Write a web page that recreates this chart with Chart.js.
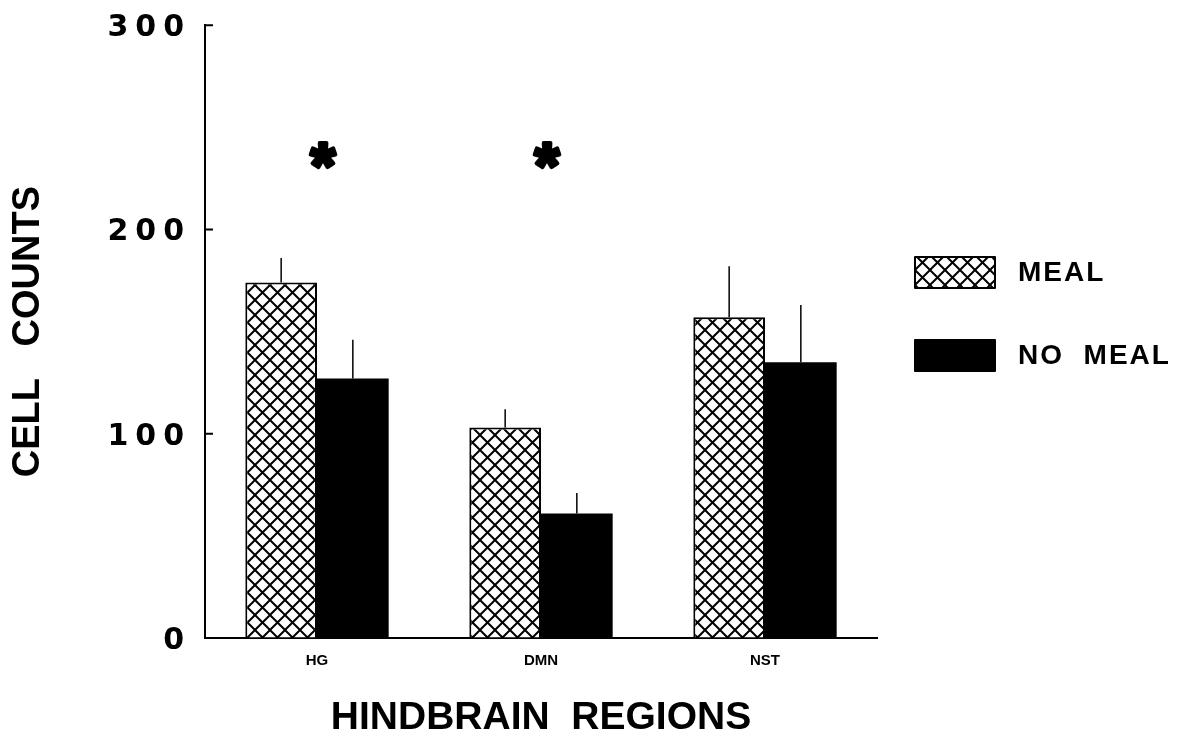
<!DOCTYPE html>
<html>
<head>
<meta charset="utf-8">
<script src="https://cdn.jsdelivr.net/npm/chart.js@4"></script>
<style>
  html, body { margin: 0; padding: 0; background: #fff; }
  #wrap { width: 1187px; height: 741px; }
</style>
</head>
<body>
<div id="wrap"><canvas id="myChart" width="1187" height="741"></canvas></div>
<script>
const regions = ["HG", "DMN", "NST"];
const mealValues = [174, 103, 157];
const mealErrors = [12, 9, 25];
const noMealValues = [127, 61, 135];
const noMealErrors = [19, 10, 28];
const yTicks = [0, 100, 200, 300];
const starLabels = ["*", "*", ""];
const starValues = [236, 236, 0];

const FONT = "'Liberation Sans', Arial, sans-serif";

// cross hatch fill like the old printout
function makeHatch() {
  const size = 15;
  const c = document.createElement("canvas");
  c.width = size;
  c.height = size;
  const g = c.getContext("2d");
  g.fillStyle = "#fff";
  g.fillRect(0, 0, size, size);
  g.strokeStyle = "#000";
  g.lineWidth = 2;
  g.beginPath();
  g.moveTo(-2, -2); g.lineTo(size + 2, size + 2);
  g.moveTo(size + 2, -2); g.lineTo(-2, size + 2);
  g.stroke();
  return g.createPattern(c, "repeat");
}
const hatch = makeHatch();

const errors = [mealErrors, noMealErrors];

const extrasPlugin = {
  id: "extras",
  beforeDraw(chart) {
    chart.ctx.letterSpacing = "0px";
  },
  afterDatasetsDraw(chart) {
    const ctx = chart.ctx;
    // error bars, upward only, no caps
    ctx.save();
    ctx.strokeStyle = "#000";
    ctx.lineWidth = 1.5;
    chart.data.datasets.forEach((ds, i) => {
      const meta = chart.getDatasetMeta(i);
      meta.data.forEach((bar, j) => {
        const top = chart.scales.y.getPixelForValue(ds.data[j] + errors[i][j]);
        ctx.beginPath();
        ctx.moveTo(bar.x, bar.y);
        ctx.lineTo(bar.x, top);
        ctx.stroke();
      });
    });
    ctx.restore();
    // spacing for the y tick numbers drawn in the next layer
    ctx.letterSpacing = "7px";
  },
  afterDraw(chart) {
    const ctx = chart.ctx;
    const y = chart.scales.y;
    const x = chart.scales.x;
    ctx.save();
    ctx.letterSpacing = "0px";
    // inward ticks on the y axis
    ctx.strokeStyle = "#000";
    ctx.lineWidth = 2;
    yTicks.forEach(v => {
      const py = y.getPixelForValue(v);
      ctx.beginPath();
      ctx.moveTo(chart.chartArea.left, py);
      ctx.lineTo(chart.chartArea.left + 8, py);
      ctx.stroke();
    });
    // significance stars
    ctx.fillStyle = "#000";
    ctx.strokeStyle = "#000";
    ctx.lineWidth = 4;
    ctx.lineJoin = "round";
    ctx.font = "bold 64px " + FONT;
    ctx.textAlign = "center";
    ctx.textBaseline = "alphabetic";
    starLabels.forEach((s, i) => {
      if (!s) return;
      const m = ctx.measureText(s);
      const cy = y.getPixelForValue(starValues[i]);
      const base = cy + (m.actualBoundingBoxAscent - m.actualBoundingBoxDescent) / 2;
      const sx = x.getPixelForValue(i) + 6;
      ctx.strokeText(s, sx, base);
      ctx.fillText(s, sx, base);
    });
    // legend
    const boxX = 915, boxW = 80, boxH = 31;
    const rows = [257, 340];
    ctx.font = "bold 28px " + FONT;
    ctx.textAlign = "left";
    ctx.textBaseline = "middle";
    ctx.letterSpacing = "2px";
    ctx.lineWidth = 2;
    chart.data.datasets.forEach((ds, i) => {
      const top = rows[i];
      ctx.fillStyle = ds.backgroundColor;
      ctx.fillRect(boxX, top, boxW, boxH);
      ctx.strokeStyle = "#000";
      ctx.strokeRect(boxX, top, boxW, boxH);
      ctx.fillStyle = "#000";
      ctx.fillText(ds.label, 1018, top + boxH / 2 + 1);
    });
    ctx.restore();
  }
};

const config = {
  type: "bar",
  data: {
    labels: regions,
    datasets: [
      {
        label: "MEAL",
        data: mealValues,
        backgroundColor: hatch,
        borderColor: "#000",
        borderWidth: 2
      },
      {
        label: "NO  MEAL",
        data: noMealValues,
        backgroundColor: "#000",
        borderColor: "#000",
        borderWidth: 0
      }
    ]
  },
  options: {
    responsive: false,
    animation: false,
    events: [],
    categoryPercentage: 0.64,
    barPercentage: 1.0,
    layout: { padding: { top: 25, right: 310, left: 0, bottom: 0 } },
    plugins: {
      legend: { display: false },
      tooltip: { enabled: false }
    },
    scales: {
      x: {
        grid: { display: false, drawTicks: false },
        border: { display: true, color: "#000", width: 2 },
        ticks: {
          color: "#000",
          padding: 14,
          font: { family: FONT, size: 15, weight: "bold" }
        },
        title: {
          display: true,
          text: "HINDBRAIN  REGIONS",
          color: "#000",
          padding: { top: 0, bottom: 2 },
          font: { family: FONT, size: 39, weight: "bold", lineHeight: 1.05 }
        },
        afterFit(scale) { scale.height = 103; }
      },
      y: {
        min: 0,
        max: 300,
        grid: { drawOnChartArea: false, drawTicks: false },
        border: { display: true, color: "#000", width: 2 },
        ticks: {
          stepSize: 100,
          color: "#000",
          padding: 14,
          labelOffset: 3,
          z: 2,
          font: { family: "'DejaVu Sans', sans-serif", size: 30, weight: "bold", lineHeight: 0.75 }
        },
        title: {
          display: true,
          text: "CELL   COUNTS",
          color: "#000",
          padding: { top: 6, bottom: 0 },
          font: { family: FONT, size: 38, weight: "bold" }
        },
        afterFit(scale) { scale.width = 205; }
      }
    }
  },
  plugins: [extrasPlugin]
};

const myChart = new Chart(document.getElementById("myChart"), config);
</script>
</body>
</html>
